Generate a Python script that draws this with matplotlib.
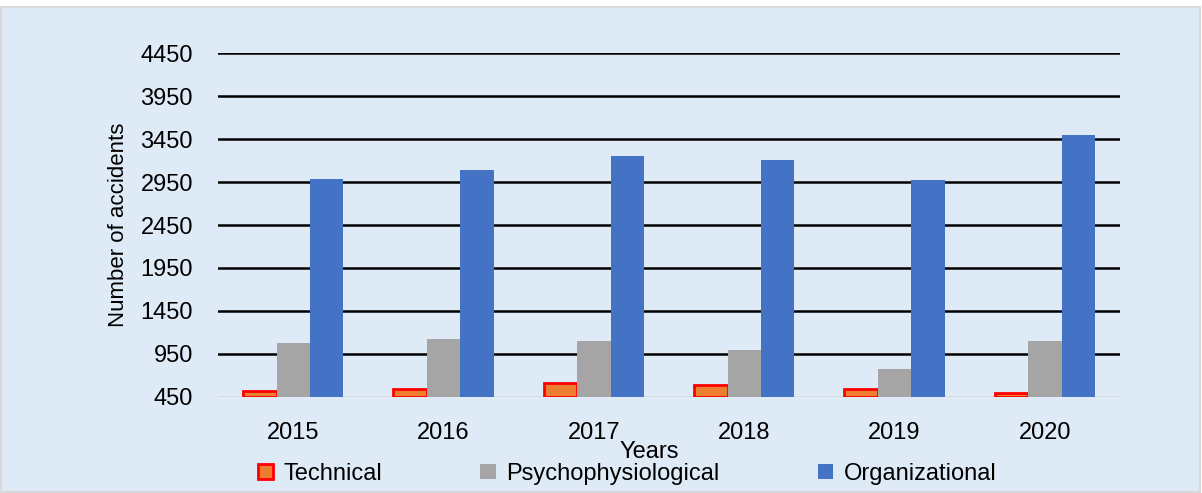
import matplotlib
matplotlib.use('Agg')
import matplotlib.pyplot as plt
import numpy as np
from matplotlib.patches import Rectangle

years = ['2015', '2016', '2017', '2018', '2019', '2020']
technical = [520, 543, 606, 590, 543, 497]
psycho = [1074, 1120, 1104, 997, 775, 1095]
organizational = [2990, 3095, 3259, 3212, 2980, 3502]
yticks = [450, 950, 1450, 1950, 2450, 2950, 3450, 3950, 4450]

plt.rcParams['font.family'] = ['Liberation Sans', 'DejaVu Sans']

bg = '#DEEAF6'
fig = plt.figure(figsize=(12.02, 4.93), dpi=100)
fig.patch.set_facecolor('white')
fig.patches.append(Rectangle((0.001, 0.002), 0.997, 0.984, transform=fig.transFigure,
                             facecolor=bg, edgecolor='#D9D9D9', linewidth=1.5, zorder=-10))

ax = fig.add_axes([0.1814, 0.1953, 0.7504, 0.6966])
ax.set_facecolor('none')

x = np.arange(len(years))
w = 0.222
base = 450
ax.bar(x - w, np.array(technical) - base, w, bottom=base, color='#ED7D31',
       edgecolor='red', linewidth=2, label='Technical', zorder=3)
ax.bar(x, np.array(psycho) - base, w, bottom=base, color='#A5A5A5',
       label='Psychophysiological', zorder=3)
ax.bar(x + w, np.array(organizational) - base, w, bottom=base, color='#4472C4',
       label='Organizational', zorder=3)

ax.set_ylim(450, 4450)
ax.set_xlim(-0.5, len(years) - 0.5)
ax.set_yticks(yticks)
ax.set_yticklabels([str(v) for v in yticks], fontsize=17)
ax.set_xticks(x)
ax.set_xticklabels(years, fontsize=17)
ax.tick_params(axis='both', length=0)
ax.tick_params(axis='x', pad=18)
ax.tick_params(axis='y', pad=18)
for v in yticks[1:]:
    ax.axhline(v, color='black', linewidth=1.8, zorder=1)
ax.axhline(450, color='#D9D9D9', linewidth=2, zorder=2)
for s in ax.spines.values():
    s.set_visible(False)

ax.set_ylabel('Number of accidents', fontsize=16, labelpad=8)
fig.text(0.54, 0.083, 'Years', fontsize=17, ha='center', va='center')

fig.legend(loc='center', bbox_to_anchor=(0.5216, 0.039), ncol=3, frameon=False,
           fontsize=17, handlelength=0.65, handleheight=0.65, handletextpad=0.45,
           columnspacing=4.15, borderpad=0)

plt.savefig('out.png', dpi=100, facecolor=fig.get_facecolor())
